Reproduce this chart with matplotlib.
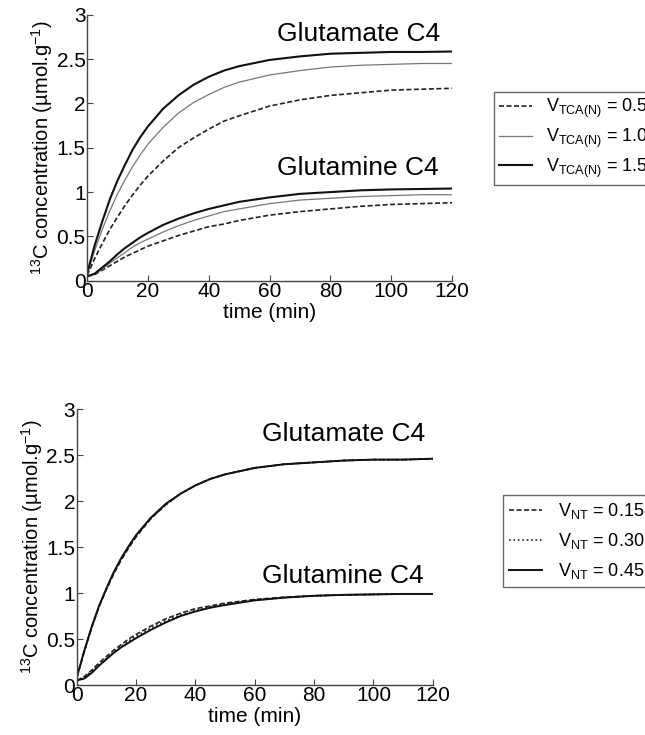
import numpy as np
import matplotlib
matplotlib.use('Agg')
import matplotlib.pyplot as plt

plt.rcParams['font.family'] = ['Liberation Sans', 'DejaVu Sans']
plt.rcParams['mathtext.default'] = 'regular'

# czas (min)
t = [0, 2.5, 5, 7.5, 10, 12.5, 15, 17.5, 20, 25, 30, 35, 40, 45, 50, 60, 70, 80, 90, 100, 110, 120]

# gorny wykres: V_TCA(N) = 0.5, 1.0, 1.5
glu_tca_05 = [0.06, 0.25, 0.42, 0.58, 0.72, 0.85, 0.97, 1.08, 1.18, 1.35, 1.50, 1.61, 1.71, 1.80, 1.86,
              1.97, 2.04, 2.09, 2.12, 2.15, 2.16, 2.17]
glu_tca_10 = [0.07, 0.34, 0.58, 0.79, 0.98, 1.14, 1.29, 1.42, 1.54, 1.73, 1.89, 2.01, 2.10, 2.18, 2.24,
              2.32, 2.37, 2.41, 2.43, 2.44, 2.45, 2.45]
glu_tca_15 = [0.08, 0.40, 0.67, 0.92, 1.13, 1.31, 1.48, 1.62, 1.74, 1.94, 2.09, 2.21, 2.30, 2.37, 2.42,
              2.49, 2.53, 2.56, 2.57, 2.58, 2.58, 2.585]
gln_tca_05 = [0.05, 0.07, 0.12, 0.17, 0.22, 0.27, 0.31, 0.35, 0.39, 0.45, 0.51, 0.56, 0.61, 0.64, 0.68,
              0.74, 0.78, 0.81, 0.84, 0.86, 0.87, 0.88]
gln_tca_10 = [0.05, 0.075, 0.13, 0.20, 0.26, 0.32, 0.38, 0.43, 0.47, 0.55, 0.62, 0.68, 0.73, 0.78, 0.81,
              0.87, 0.91, 0.93, 0.95, 0.96, 0.97, 0.97]
gln_tca_15 = [0.05, 0.08, 0.15, 0.22, 0.30, 0.37, 0.43, 0.49, 0.54, 0.63, 0.70, 0.76, 0.81, 0.85, 0.89,
              0.94, 0.98, 1.00, 1.02, 1.03, 1.035, 1.04]

# dolny wykres: V_NT = 0.15, 0.30, 0.45
glu_nt_015 = [0.08, 0.36, 0.62, 0.85, 1.04, 1.21, 1.36, 1.49, 1.61, 1.81, 1.96, 2.08, 2.17, 2.24, 2.29,
              2.36, 2.40, 2.42, 2.44, 2.45, 2.45, 2.46]
glu_nt_030 = [0.08, 0.36, 0.62, 0.85, 1.05, 1.22, 1.37, 1.50, 1.62, 1.81, 1.96, 2.08, 2.17, 2.24, 2.29,
              2.36, 2.40, 2.42, 2.44, 2.45, 2.45, 2.46]
glu_nt_045 = [0.08, 0.37, 0.63, 0.86, 1.05, 1.23, 1.38, 1.51, 1.63, 1.82, 1.97, 2.08, 2.17, 2.24, 2.29,
              2.36, 2.40, 2.42, 2.44, 2.45, 2.45, 2.46]
gln_nt_015 = [0.05, 0.09, 0.16, 0.24, 0.31, 0.38, 0.44, 0.50, 0.55, 0.64, 0.72, 0.78, 0.83, 0.86, 0.89,
              0.93, 0.955, 0.97, 0.98, 0.985, 0.99, 0.99]
gln_nt_030 = [0.05, 0.08, 0.15, 0.22, 0.29, 0.36, 0.42, 0.48, 0.53, 0.62, 0.70, 0.76, 0.81, 0.85, 0.88,
              0.925, 0.95, 0.97, 0.98, 0.985, 0.99, 0.99]
gln_nt_045 = [0.05, 0.07, 0.13, 0.21, 0.28, 0.35, 0.41, 0.46, 0.51, 0.60, 0.68, 0.75, 0.80, 0.84, 0.87,
              0.92, 0.95, 0.97, 0.98, 0.985, 0.99, 0.99]

tca_labels = ['V$_{TCA(N)}$ = 0.5', 'V$_{TCA(N)}$ = 1.0', 'V$_{TCA(N)}$ = 1.5']
nt_labels = ['V$_{NT}$ = 0.15', 'V$_{NT}$ = 0.30', 'V$_{NT}$ = 0.45']

ylab = '$^{13}$C concentration (µmol.g$^{-1}$)'

fig = plt.figure(figsize=(6.45, 7.35), dpi=100)


def styl(ax):
    ax.set_xlim(0, 120)
    ax.set_ylim(0, 3)
    ax.set_xticks([0, 20, 40, 60, 80, 100, 120])
    ax.set_yticks([0, 0.5, 1, 1.5, 2, 2.5, 3])
    ax.set_yticklabels(['0', '0.5', '1', '1.5', '2', '2.5', '3'])
    ax.spines['top'].set_visible(False)
    ax.spines['right'].set_visible(False)
    for s in ['left', 'bottom']:
        ax.spines[s].set_color('#444444')
        ax.spines[s].set_linewidth(1.0)
    ax.tick_params(direction='in', length=4, color='#444444', labelsize=15, pad=1)
    ax.set_xlabel('time (min)', fontsize=15, labelpad=1)
    ax.set_ylabel(ylab, fontsize=14.5, labelpad=1)


#GORNY
ax1 = fig.add_axes([0.135, 0.618, 0.566, 0.362])
l1, = ax1.plot(t, glu_tca_05, '--', color='#222222', lw=1.2, dashes=(3, 1.5))
l2, = ax1.plot(t, glu_tca_10, '-', color='#777777', lw=0.9)
l3, = ax1.plot(t, glu_tca_15, '-', color='#111111', lw=1.5)
ax1.plot(t, gln_tca_05, '--', color='#222222', lw=1.2, dashes=(3, 1.5))
ax1.plot(t, gln_tca_10, '-', color='#777777', lw=0.9)
ax1.plot(t, gln_tca_15, '-', color='#111111', lw=1.5)
ax1.text(62.5, 2.78, 'Glutamate C4', fontsize=19, va='center', ha='left')
ax1.text(62.3, 1.27, 'Glutamine C4', fontsize=19, va='center', ha='left')
styl(ax1)
leg1 = ax1.legend([l1, l2, l3], tca_labels, loc='upper left',
                  bbox_to_anchor=(0.766, 0.875), bbox_transform=fig.transFigure,
                  fontsize=13, fancybox=False, handlelength=1.8, handletextpad=0.8,
                  borderaxespad=0, labelspacing=0.35, borderpad=0.3)
leg1.get_frame().set_edgecolor('#444444')
leg1.get_frame().set_linewidth(1.0)

#DOLNY
ax2 = fig.add_axes([0.119, 0.068, 0.552, 0.3755])
m1, = ax2.plot(t, glu_nt_015, '--', color='#222222', lw=1.2, dashes=(3, 1.5))
m2, = ax2.plot(t, glu_nt_030, ':', color='#222222', lw=1.2)
m3, = ax2.plot(t, glu_nt_045, '-', color='#111111', lw=1.4)
ax2.plot(t, gln_nt_015, '--', color='#222222', lw=1.2, dashes=(3, 1.5))
ax2.plot(t, gln_nt_030, ':', color='#222222', lw=1.2)
ax2.plot(t, gln_nt_045, '-', color='#111111', lw=1.4)
ax2.text(62.5, 2.73, 'Glutamate C4', fontsize=19, va='center', ha='left')
ax2.text(62.3, 1.19, 'Glutamine C4', fontsize=19, va='center', ha='left')
styl(ax2)
leg2 = ax2.legend([m1, m2, m3], nt_labels, loc='upper left',
                  bbox_to_anchor=(0.78, 0.327), bbox_transform=fig.transFigure,
                  fontsize=13, fancybox=False, handlelength=1.8, handletextpad=0.9,
                  borderaxespad=0, labelspacing=0.55, borderpad=0.35)
leg2.get_frame().set_edgecolor('#444444')
leg2.get_frame().set_linewidth(1.0)

plt.savefig('out.png', dpi=100)
